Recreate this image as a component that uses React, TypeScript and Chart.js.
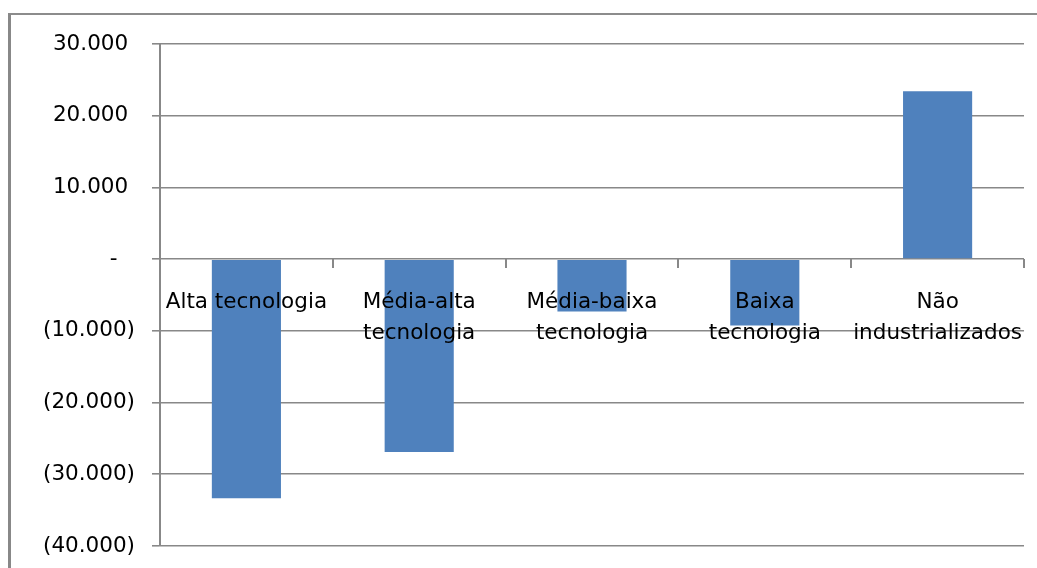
import React, { useEffect, useRef } from "react";
import { Chart, registerables } from "chart.js";

Chart.register(...registerables);

const categories: (string | string[])[] = [
  "Alta tecnologia",
  ["Média-alta", "tecnologia"],
  ["Média-baixa", "tecnologia"],
  ["Baixa", "tecnologia"],
  ["Não", "industrializados"],
];
const values: number[] = [-33350, -26900, -7300, -9250, 23400];
const yMin = -40000;
const yMax = 30000;
const yStep = 10000;

function formatTick(v: number): string {
  if (v === 0) return "-\u2002 ";
  const s = Math.abs(v).toLocaleString("pt-BR");
  return v < 0 ? `(${s})` : `${s} `;
}

export default function App() {
  const ref = useRef<HTMLCanvasElement | null>(null);
  useEffect(() => {
    if (!ref.current) return;
    const font = { family: "'DejaVu Sans', sans-serif", size: 21.5 };
    const chart = new Chart(ref.current, {
      type: "bar",
      data: {
        labels: categories,
        datasets: [
          {
            data: values,
            backgroundColor: "#4F81BD",
            borderWidth: 0,
            categoryPercentage: 0.4,
            barPercentage: 1,
          },
        ],
      },
      options: {
        animation: false,
        responsive: false,
        maintainAspectRatio: false,
        layout: { padding: { top: 29, right: 13, bottom: 22, left: 0 } },
        plugins: { legend: { display: false }, tooltip: { enabled: false } },
        scales: {
          x: {
            position: { y: 0 } as any,
            afterFit: (scale: any) => {
              scale.paddingLeft = 0;
              scale.paddingRight = 0;
              scale.paddingTop = 0;
              scale.paddingBottom = 0;
            },
            grid: {
              drawOnChartArea: false,
              drawTicks: true,
              tickLength: 9,
              color: "#888888",
              lineWidth: 2,
              offset: true,
              z: 1,
            },
            border: { display: false },
            ticks: {
              font: { ...font, lineHeight: 1.42 },
              color: "#000000",
              padding: 19,
              maxRotation: 0,
              autoSkip: false,
              z: 2,
            } as any,
          },
          y: {
            min: yMin,
            max: yMax,
            afterFit: (scale: any) => {
              scale.width = 149;
              scale.paddingTop = 0;
              scale.paddingBottom = 0;
            },
            grid: {
              color: "#888888",
              lineWidth: 1.6,
              tickLength: 8,
              drawTicks: true,
            },
            border: { display: true, color: "#888888", width: 2 },
            ticks: {
              stepSize: yStep,
              font,
              color: "#000000",
              padding: 17,
              callback: (v: any) => formatTick(Number(v)),
            },
          },
        },
      },
    });
    return () => chart.destroy();
  }, []);
  return (
    <div
      style={{
        position: "absolute",
        left: 8,
        top: 13,
        width: 1026,
        height: 553,
        borderLeft: "3px solid #888888",
        borderTop: "2px solid #8c8c8c",
        background: "#ffffff",
      }}
    >
      <canvas ref={ref} width={1026} height={553} style={{ display: "block" }} />
    </div>
  );
}
